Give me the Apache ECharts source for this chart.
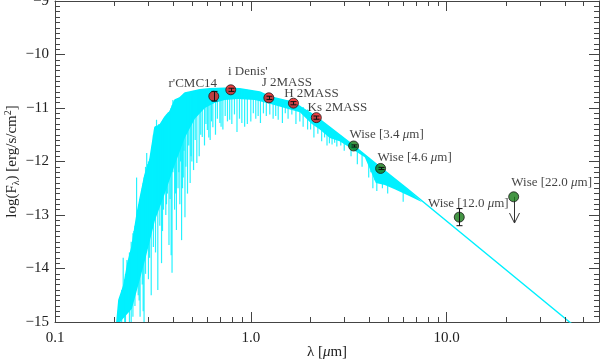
<!DOCTYPE html>
<html>
<head>
<meta charset="utf-8">
<script src="https://cdn.jsdelivr.net/npm/echarts@6/dist/echarts.min.js"></script>
<style>
  html, body { margin: 0; padding: 0; background: #fff; }
  #main { width: 600px; height: 361px; }
</style>
</head>
<body>
<div id="main"></div>
<script>
// photometry points (wavelength in micron, log flux)
const photLam = [0.647, 0.79, 1.236, 1.65, 2.16, 3.35, 4.6, 11.6, 22.0]
const photFlux = [-10.78, -10.66, -10.81, -10.91, -11.18, -11.71, -12.13, -13.04, -12.66]
const photErr = [0.09, 0.03, 0.03, 0.03, 0.03, 0.02, 0.02, 0.16, 0]
const photLabel = ["r'CMC14", "i Denis'", 'J 2MASS', 'H 2MASS', 'Ks 2MASS',
  'Wise [3.4 μm]', 'Wise [4.6 μm]', 'Wise [12.0 μm]', 'Wise [22.0 μm]']
const photKind = ['opt', 'opt', 'opt', 'opt', 'opt', 'wise', 'wise', 'wise', 'wise']
// upper limit (Wise 22 micron)
const limitLam = [22.0]
const limitFrom = [-12.66]
const limitTo = [-13.15]

// model spectrum: upper edge + Rayleigh-Jeans tail
const specLam = [0.207, 0.212, 0.225, 0.236, 0.247, 0.262, 0.271, 0.288, 0.305, 0.324, 0.343, 0.364,
  0.386, 0.410, 0.434, 0.461, 0.488, 0.549, 0.618, 0.737, 0.877, 1.11, 1.25, 1.64, 2.17, 3.31, 4.55,
  6.25, 42.4, 60]
const specFlux = [-15.0, -14.59, -14.31, -13.88, -13.6, -13.0, -12.72, -12.25, -11.97, -11.36, -11.32, -11.17,
  -11.07, -10.85, -10.81, -10.72, -10.70, -10.66, -10.64, -10.63, -10.64, -10.70, -10.79, -10.89, -11.17, -11.69, -12.10,
  -12.50, -15.0, -15.45]
// lower edge of the solid absorption band
const bandLam = [0.215, 0.247, 0.288, 0.324, 0.364, 0.410, 0.461, 0.518, 0.583, 0.656, 0.737, 0.859, 1.048,
  1.25, 1.49, 1.78, 2.05, 2.25, 2.53, 2.84, 3.20, 3.82, 4.35, 4.83, 5.43, 6.48, 7.5]
const bandFlux = [-15.0, -14.75, -13.85, -13.1, -12.6, -12.05, -11.55, -11.2, -11.0, -10.9, -10.85, -10.83, -10.85,
  -10.92, -11.0, -11.08, -11.3, -11.4, -11.56, -11.62, -11.74, -11.92, -12.4, -12.44, -12.52, -12.65, -12.76]
// absorption lines
const lineLam = [0.214, 0.219, 0.223, 0.229, 0.233, 0.240, 0.250, 0.256, 0.261, 0.266, 0.272, 0.279, 0.285,
  0.294, 0.300, 0.310, 0.318, 0.330, 0.335, 0.343, 0.350, 0.358, 0.368, 0.375, 0.382, 0.392, 0.396, 0.400,
  0.408, 0.417, 0.425, 0.434, 0.443, 0.452, 0.461, 0.475, 0.490, 0.500, 0.510, 0.530, 0.545, 0.565, 0.580,
  0.600, 0.620, 0.640, 0.660, 0.695, 0.720, 0.760, 0.800, 0.850, 0.900, 0.960, 1.000, 1.060, 1.120, 1.200,
  1.300, 1.380, 1.450, 1.550, 1.700, 1.850, 1.950, 2.100, 2.300, 2.450, 2.600, 2.750, 3.000, 3.500, 3.700,
  4.000, 4.200, 4.400, 5.000, 6.000,
  0.227, 0.237, 0.245, 0.253, 0.269, 0.276, 0.282, 0.290, 0.297, 0.304, 0.314, 0.322, 0.326, 0.339, 0.346,
  0.354, 0.362, 0.371, 0.379, 0.387, 0.404, 0.413, 0.421, 0.429, 0.438, 0.448, 0.456, 0.466, 0.482, 0.495,
  0.520, 0.555, 0.590, 0.610, 0.630, 0.675, 0.705, 0.740, 0.780, 0.825, 0.875, 0.930, 1.030, 1.090, 1.160,
  1.250, 1.340, 1.500, 1.620, 1.780, 2.020, 2.200, 2.380, 2.520, 2.680, 2.880, 3.250, 4.100, 4.300, 4.700]
const lineTop = [-14.6, -14.4, -13.8, -14.1, -13.84, -13.7, -13.34, -13.2, -12.3, -12.9, -12.7, -12.5, -12.3,
  -11.84, -12.0, -11.9, -11.5, -11.22, -11.4, -11.3, -11.3, -11.2, -11.15, -11.1, -11.08, -11.0, -10.95, -10.85,
  -10.9, -10.85, -10.82, -10.8, -10.79, -10.75, -10.72, -10.71, -10.70, -10.69, -10.68, -10.67, -10.66, -10.66, -10.65,
  -10.65, -10.64, -10.64, -10.64, -10.63, -10.63, -10.63, -10.63, -10.64, -10.65, -10.66, -10.67, -10.69, -10.71, -10.75,
  -10.8, -10.83, -10.85, -10.87, -10.92, -10.98, -11.03, -11.12, -11.25, -11.33, -11.4, -11.47, -11.57, -11.76, -11.83,
  -11.93, -12.0, -12.05, -12.24, -12.45,
  -14.2, -13.9, -13.5, -13.3, -12.8, -12.6, -12.4, -12.1, -12.05, -11.95, -11.7, -11.4, -11.35, -11.3, -11.3,
  -11.25, -11.18, -11.12, -11.08, -11.05, -10.88, -10.85, -10.83, -10.81, -10.8, -10.77, -10.73, -10.72, -10.71, -10.70,
  -10.68, -10.66, -10.65, -10.65, -10.64, -10.63, -10.63, -10.63, -10.63, -10.64, -10.64, -10.65, -10.68, -10.7, -10.73,
  -10.78, -10.82, -10.86, -10.89, -10.96, -11.08, -11.18, -11.3, -11.36, -11.44, -11.52, -11.66, -11.98, -12.03, -12.1]
const lineBottom = [-15.0, -15.0, -14.9, -15.0, -14.8, -15.0, -14.9, -14.7, -13.6, -14.5, -14.9, -14.3, -15.0,
  -13.2, -14.2, -14.5, -13.6, -12.4, -14.4, -13.2, -13.9, -12.9, -13.0, -12.6, -13.56, -13.75, -14.08, -12.2,
  -12.9, -13.28, -12.5, -12.8, -13.47, -12.3, -13.04, -12.6, -12.4, -12.0, -12.16, -12.03, -11.9, -11.54, -11.7,
  -11.41, -11.6, -11.36, -11.5, -11.28, -11.4, -11.25, -11.3, -11.45, -11.28, -11.3, -11.25, -11.2, -11.28, -11.15,
  -11.2, -11.22, -11.28, -11.2, -11.3, -11.35, -11.4, -11.55, -11.62, -11.7, -11.68, -11.72, -11.8, -12.05, -12.1,
  -12.3, -12.5, -12.55, -12.6, -12.75,
  -15.0, -14.6, -15.0, -14.4, -14.6, -13.9, -14.8, -14.1, -13.5, -13.8, -13.2, -13.0, -13.7, -12.7, -12.8,
  -13.3, -12.5, -12.8, -12.3, -12.7, -12.0, -12.6, -11.9, -12.2, -12.0, -12.5, -11.8, -12.1, -11.7, -11.9,
  -11.6, -11.5, -11.3, -11.55, -11.25, -11.2, -11.35, -11.15, -11.22, -11.12, -11.2, -11.35, -11.1, -11.15, -11.1,
  -11.12, -11.15, -11.1, -11.12, -11.25, -11.4, -11.48, -11.55, -11.66, -11.65, -11.7, -11.9, -12.2, -12.35, -12.5]

// axis ticks
const xMinorTicks = [0.2, 0.3, 0.4, 0.5, 0.6, 0.7, 0.8, 0.9, 2, 3, 4, 5, 6, 7, 8, 9, 20, 30, 40, 50]

const cyan = '#00f0ff'
const axisColor = '#444'
const serif = 'Liberation Serif'
const labelOffset = [[-21, -13], [17, -18], [18, -15], [18, -10], [21, -10], [33, -11], [34, -11], [9, -14], [38, -14]]

const chart = echarts.init(document.getElementById('main'))

const px = v => Math.round(v) + 0.5

const option = {
  animation: false,
  grid: { left: 55, right: 1, top: 1, bottom: 39, containLabel: false, outerBoundsMode: 'none' },
  xAxis: [
    {
      type: 'log', logBase: 10, min: 0.1, max: 60, position: 'bottom',
      name: 'λ [{i|μ}m]', nameLocation: 'middle', nameGap: 23, nameMoveOverlap: false,
      nameTextStyle: { fontFamily: serif, fontSize: 15, color: '#222', rich: { i: { fontFamily: serif, fontStyle: 'italic', fontSize: 15 } } },
      axisLine: { lineStyle: { color: axisColor, width: 1 } },
      axisTick: { inside: true, length: 10, lineStyle: { color: axisColor } },
      axisLabel: { fontFamily: serif, fontSize: 15, color: '#222', margin: 9, showMaxLabel: false, formatter: v => v.toFixed(1) },
      splitLine: { show: false }
    },
    {
      type: 'log', logBase: 10, min: 0.1, max: 60, position: 'top',
      axisLine: { lineStyle: { color: axisColor, width: 1 } },
      axisTick: { inside: true, length: 10, lineStyle: { color: axisColor } },
      axisLabel: { show: false },
      splitLine: { show: false }
    }
  ],
  yAxis: [
    {
      type: 'value', min: -15, max: -9, interval: 1, position: 'left',
      name: 'log(F{s|λ}) [erg/s/cm{p|2}]', nameLocation: 'middle', nameGap: 32, nameMoveOverlap: false,
      nameTextStyle: {
        fontFamily: serif, fontSize: 15, color: '#222', lineHeight: 22,
        rich: {
          s: { fontFamily: serif, fontSize: 10, color: '#222', padding: [8, 0, 0, 0] },
          p: { fontFamily: serif, fontSize: 10, color: '#222', padding: [0, 0, 8, 0] }
        }
      },
      axisLine: { show: true, lineStyle: { color: axisColor, width: 1 } },
      axisTick: { show: true, inside: true, length: 10, lineStyle: { color: axisColor } },
      minorTick: { show: true, splitNumber: 10, length: 5, lineStyle: { color: axisColor } },
      axisLabel: { fontFamily: serif, fontSize: 15, color: '#222', margin: 6, formatter: v => '\u2212' + Math.abs(v) },
      splitLine: { show: false }
    },
    {
      type: 'value', min: -15, max: -9, interval: 1, position: 'right',
      axisLine: { show: true, lineStyle: { color: axisColor, width: 1 } },
      axisTick: { show: true, inside: true, length: 10, lineStyle: { color: axisColor } },
      minorTick: { show: true, splitNumber: 10, length: 5, lineStyle: { color: axisColor } },
      axisLabel: { show: false },
      splitLine: { show: false }
    }
  ],
  series: [
    // solid part of the spectrum
    {
      type: 'custom', clip: true, silent: true, z: 1,
      data: [[1, -12]],
      renderItem: (params, api) => {
        const pts = []
        specLam.slice(0, 28).forEach((l, i) => pts.push(api.coord([l, specFlux[i]])))
        for (let i = bandLam.length - 1; i >= 0; i--) pts.push(api.coord([bandLam[i], bandFlux[i]]))
        return { type: 'polygon', shape: { points: pts }, style: { fill: cyan } }
      }
    },
    // absorption lines
    {
      type: 'custom', clip: true, silent: true, z: 1,
      data: lineLam.map((l, i) => [l, lineTop[i], lineBottom[i]]),
      encode: { x: 0, y: [1, 2] },
      renderItem: (params, api) => {
        const a = api.coord([api.value(0), api.value(1)])
        const b = api.coord([api.value(0), api.value(2)])
        return { type: 'line', shape: { x1: a[0], y1: a[1], x2: b[0], y2: b[1] }, style: { stroke: cyan, lineWidth: 1.2, opacity: 0.85 } }
      }
    },
    // upper edge + tail
    {
      type: 'line', clip: true, silent: true, z: 2, showSymbol: false,
      data: specLam.map((l, i) => [l, specFlux[i]]),
      lineStyle: { color: cyan, width: 1.5 }
    },
    // minor log ticks on top and bottom
    {
      type: 'custom', silent: true, z: 3,
      data: xMinorTicks.map(l => [l, -12]),
      renderItem: (params, api) => {
        const lo = api.coord([api.value(0), -15])
        const hi = api.coord([api.value(0), -9])
        const st = { stroke: axisColor, lineWidth: 1 }
        return {
          type: 'group', children: [
            { type: 'line', shape: { x1: px(lo[0]), y1: lo[1], x2: px(lo[0]), y2: lo[1] - 5 }, style: st },
            { type: 'line', shape: { x1: px(hi[0]), y1: hi[1], x2: px(hi[0]), y2: hi[1] + 5 }, style: st }
          ]
        }
      }
    },
    // photometry points
    {
      type: 'scatter', z: 5, symbol: 'circle', symbolSize: 10,
      data: photLam.map((l, i) => ({
        value: [l, photFlux[i]],
        itemStyle: { color: photKind[i] === 'opt' ? '#ee1111' : '#157a15' },
        label: { offset: labelOffset[i] }
      })),
      itemStyle: { borderColor: '#1a1a1a', borderWidth: 1 },
      label: {
        show: true, position: 'inside', color: '#111', fontFamily: serif, fontSize: 13,
        formatter: p => photLabel[p.dataIndex].replace('μ', '{i|μ}'),
        rich: { i: { fontFamily: serif, fontStyle: 'italic', fontSize: 13, color: '#111' } }
      }
    },
    // error bars
    {
      type: 'custom', z: 6, silent: true,
      data: photLam.map((l, i) => [l, photFlux[i] + photErr[i], photFlux[i] - photErr[i]]),
      encode: { x: 0, y: [1, 2] },
      renderItem: (params, api) => {
        const a = api.coord([api.value(0), api.value(1)])
        const b = api.coord([api.value(0), api.value(2)])
        if (Math.abs(a[1] - b[1]) < 0.5) return null
        const x = px(a[0])
        const st = { stroke: '#111', lineWidth: 1 }
        return {
          type: 'group', children: [
            { type: 'line', shape: { x1: x, y1: a[1], x2: x, y2: b[1] }, style: st },
            { type: 'line', shape: { x1: x - 3, y1: a[1], x2: x + 3, y2: a[1] }, style: st },
            { type: 'line', shape: { x1: x - 3, y1: b[1], x2: x + 3, y2: b[1] }, style: st }
          ]
        }
      }
    },
    // upper limit arrow
    {
      type: 'custom', z: 4, silent: true,
      data: limitLam.map((l, i) => [l, limitFrom[i], limitTo[i]]),
      encode: { x: 0, y: [1, 2] },
      renderItem: (params, api) => {
        const a = api.coord([api.value(0), api.value(1)])
        const b = api.coord([api.value(0), api.value(2)])
        const x = px(a[0])
        const st = { stroke: '#333', lineWidth: 1, fill: null }
        return {
          type: 'group', children: [
            { type: 'line', shape: { x1: x, y1: a[1], x2: x, y2: b[1] }, style: st },
            { type: 'polyline', shape: { points: [[x - 5, b[1] - 10], [x, b[1]], [x + 5, b[1] - 10]] }, style: st }
          ]
        }
      }
    }
  ]
}

chart.setOption(option)
</script>
</body>
</html>
